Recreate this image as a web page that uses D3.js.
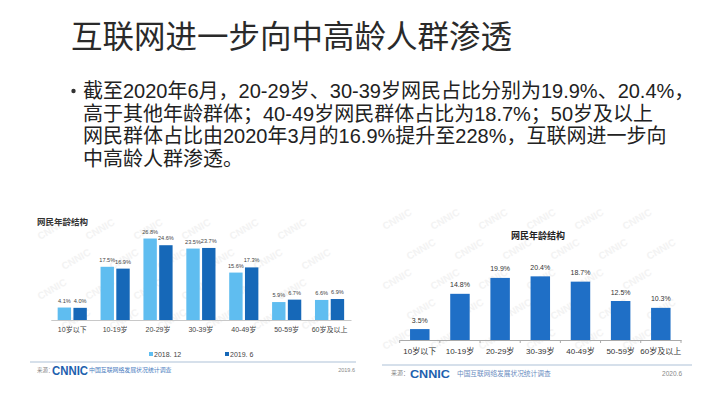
<!DOCTYPE html>
<html>
<head>
<meta charset="utf-8">
<script src="https://cdn.jsdelivr.net/npm/d3@7"></script>
<style>
  html, body { margin: 0; padding: 0; background: #fff; }
  svg { display: block; }
  text { font-family: "Liberation Sans", "Noto Sans CJK SC", sans-serif; }
</style>
</head>
<body>
<svg id="chart" width="708" height="396"></svg>
<script>
// ---------- data ----------
const slideTitle = "互联网进一步向中高龄人群渗透";
const bulletLines = [
  "截至2020年6月，20-29岁、30-39岁网民占比分别为19.9%、20.4%，",
  "高于其他年龄群体；40-49岁网民群体占比为18.7%；50岁及以上",
  "网民群体占比由2020年3月的16.9%提升至228%，互联网进一步向",
  "中高龄人群渗透。"
];
const chartTitle = "网民年龄结构";
const categories = ["10岁以下", "10-19岁", "20-29岁", "30-39岁", "40-49岁", "50-59岁", "60岁及以上"];
const seriesNames = ["2018. 12", "2019. 6"];
const values2018 = [4.1, 17.5, 26.8, 23.5, 15.6, 5.9, 6.6];
const values2019 = [4.0, 16.9, 24.6, 23.7, 17.3, 6.7, 6.9];
const values2020 = [3.5, 14.8, 19.9, 20.4, 18.7, 12.5, 10.3];
const sourceLabel = "来源：";
const sourceName = "中国互联网络发展状况统计调查";
const leftDate = "2019.6";
const rightDate = "2020.6";

const svg = d3.select("#chart");

// ---------- slide title & bullets ----------
svg.append("text")
  .attr("x", 71).attr("y", 37)
  .attr("dominant-baseline", "central")
  .attr("font-family", "Noto Sans CJK SC")
  .attr("font-size", 31.5)
  .attr("fill", "#2a2a2a")
  .text(slideTitle);

svg.append("circle").attr("cx", 73.5).attr("cy", 91).attr("r", 2.2).attr("fill", "#333");

svg.selectAll("text.bullet")
  .data(bulletLines)
  .join("text")
  .attr("class", "bullet")
  .attr("x", 83)
  .attr("y", (d, i) => 91 + i * 22.5)
  .attr("dominant-baseline", "central")
  .attr("font-size", 20)
  .attr("fill", "#222")
  .text(d => d);

// ---------- watermarks ----------
function watermark(g, x0, x1, y0, y1) {
  const xs = d3.range(x0, x1, 48), ys = d3.range(y0, y1, 30);
  ys.forEach((y, j) => xs.forEach(x => {
    g.append("text")
      .attr("transform", `translate(${x + (j % 2) * 24},${y}) rotate(-30)`)
      .attr("font-size", 10).attr("font-weight", "bold")
      .attr("fill", "#f3f3f3")
      .text("CNNIC");
  }));
}

// ---------- left chart ----------
const L = svg.append("g");
watermark(L, 40, 310, 240, 350);

L.append("text")
  .attr("x", 37).attr("y", 222)
  .attr("dominant-baseline", "central")
  .attr("font-family", "Noto Sans CJK SC")
  .attr("font-size", 8.5).attr("font-weight", "bold")
  .attr("fill", "#333")
  .text(chartTitle);

const xL = d3.scaleBand().domain(categories).range([50.8, 351]).paddingInner(0.32).paddingOuter(0.16);
const xLs = d3.scaleBand().domain(seriesNames).range([0, xL.bandwidth()]).paddingInner(0.15);
const yL = d3.scaleLinear().domain([0, 30]).range([320, 228.8]);
const leftColors = d3.scaleOrdinal().domain(seriesNames).range(["#5fbdf0", "#1668b8"]);

const leftRows = categories.map((c, i) => ({ c, vals: [
  { s: seriesNames[0], v: values2018[i] },
  { s: seriesNames[1], v: values2019[i] }
]}));

const lg = L.selectAll("g.grp").data(leftRows).join("g")
  .attr("class", "grp")
  .attr("transform", d => `translate(${xL(d.c)},0)`);

lg.selectAll("rect").data(d => d.vals).join("rect")
  .attr("x", d => xLs(d.s))
  .attr("width", xLs.bandwidth())
  .attr("y", d => yL(d.v))
  .attr("height", d => yL(0) - yL(d.v))
  .attr("fill", d => leftColors(d.s));

lg.selectAll("text.val").data(d => d.vals).join("text")
  .attr("class", "val")
  .attr("x", d => xLs(d.s) + xLs.bandwidth() / 2)
  .attr("y", d => yL(d.v) - 7)
  .attr("text-anchor", "middle")
  .attr("dominant-baseline", "central")
  .attr("font-size", 5.6)
  .attr("fill", "#444")
  .text(d => d.v.toFixed(1) + "%");

const axL = L.append("g").attr("transform", `translate(0,${yL(0)})`)
  .call(d3.axisBottom(xL).tickSize(0).tickPadding(7));
axL.select(".domain").attr("stroke", "#c8c8c8");
axL.selectAll("text")
  .attr("font-family", "Noto Sans CJK SC")
  .attr("font-size", 7).attr("fill", "#444");

// legend
const legL = L.selectAll("g.leg").data(seriesNames).join("g")
  .attr("class", "leg")
  .attr("transform", (d, i) => `translate(${149 + i * 76},354)`);
legL.append("rect").attr("x", 0).attr("y", -2).attr("width", 4).attr("height", 4)
  .attr("fill", d => leftColors(d));
legL.append("text").attr("x", 5).attr("y", 0)
  .attr("dominant-baseline", "central")
  .attr("font-size", 7).attr("fill", "#444")
  .text(d => d);

// footer
L.append("line").attr("x1", 30).attr("x2", 356).attr("y1", 362).attr("y2", 362)
  .attr("stroke", "#c9d6e4").attr("stroke-width", 1.5);
L.append("text").attr("x", 37).attr("y", 370).attr("dominant-baseline", "central")
  .attr("font-family", "Noto Sans CJK SC").attr("font-size", 5.5).attr("fill", "#888").text(sourceLabel);
L.append("text").attr("x", 52).attr("y", 370.5).attr("dominant-baseline", "central")
  .attr("font-size", 13).attr("font-weight", "bold").attr("fill", "#1d5fae")
  .attr("textLength", 36).attr("lengthAdjust", "spacingAndGlyphs").text("CNNIC");
L.append("text").attr("x", 89).attr("y", 370).attr("dominant-baseline", "central")
  .attr("font-family", "Noto Sans CJK SC").attr("font-size", 5.9).attr("fill", "#4a7cc0").text(sourceName);
L.append("text").attr("x", 355).attr("y", 370).attr("dominant-baseline", "central")
  .attr("text-anchor", "end").attr("font-size", 5.5).attr("fill", "#888").text(leftDate);

// ---------- right chart ----------
const R = svg.append("g");
watermark(R, 385, 640, 230, 360);

R.append("text")
  .attr("x", 538).attr("y", 236)
  .attr("text-anchor", "middle")
  .attr("dominant-baseline", "central")
  .attr("font-family", "Noto Sans CJK SC")
  .attr("font-size", 9).attr("font-weight", "bold")
  .attr("fill", "#222")
  .text(chartTitle);

const xR = d3.scaleBand().domain(categories).range([399.6, 681]).paddingInner(0.515).paddingOuter(0.26);
const yR = d3.scaleLinear().domain([0, 25]).range([340, 262]);
const rightColor = "#1f6fc6";

const rightRows = categories.map((c, i) => ({ c, v: values2020[i] }));

R.selectAll("rect.bar").data(rightRows).join("rect")
  .attr("class", "bar")
  .attr("x", d => xR(d.c))
  .attr("width", xR.bandwidth())
  .attr("y", d => yR(d.v))
  .attr("height", d => yR(0) - yR(d.v))
  .attr("fill", rightColor);

R.selectAll("text.val").data(rightRows).join("text")
  .attr("class", "val")
  .attr("x", d => xR(d.c) + xR.bandwidth() / 2)
  .attr("y", d => yR(d.v) - 9)
  .attr("text-anchor", "middle")
  .attr("dominant-baseline", "central")
  .attr("font-size", 7)
  .attr("fill", "#333")
  .text(d => d.v.toFixed(1) + "%");

const axR = R.append("g").attr("transform", `translate(0,${yR(0)})`)
  .call(d3.axisBottom(xR).tickSize(0).tickPadding(8));
axR.select(".domain").attr("stroke", "#aaa");
axR.selectAll("text")
  .attr("font-family", "Noto Sans CJK SC")
  .attr("font-size", 8).attr("fill", "#333");
// small tick marks at band boundaries
const boundaries = categories.map(c => xR(c) - xR.step() * xR.paddingInner() / 2).concat([xR.range()[1]]);
R.selectAll("line.btick").data(boundaries).join("line")
  .attr("class", "btick")
  .attr("x1", d => d).attr("x2", d => d)
  .attr("y1", yR(0)).attr("y2", yR(0) + 3)
  .attr("stroke", "#aaa");

// footer
R.append("line").attr("x1", 382).attr("x2", 692).attr("y1", 365).attr("y2", 365)
  .attr("stroke", "#c9d6e4").attr("stroke-width", 1.5);
R.append("text").attr("x", 391).attr("y", 373).attr("dominant-baseline", "central")
  .attr("font-family", "Noto Sans CJK SC").attr("font-size", 6).attr("fill", "#888").text(sourceLabel);
R.append("text").attr("x", 410).attr("y", 373.5).attr("dominant-baseline", "central")
  .attr("font-size", 11).attr("font-weight", "bold").attr("fill", "#1d5fae")
  .attr("textLength", 40).attr("lengthAdjust", "spacingAndGlyphs").text("CNNIC");
R.append("text").attr("x", 457).attr("y", 373).attr("dominant-baseline", "central")
  .attr("font-family", "Noto Sans CJK SC").attr("font-size", 6.7).attr("fill", "#6a8cc0").text(sourceName);
R.append("text").attr("x", 682).attr("y", 373).attr("dominant-baseline", "central")
  .attr("text-anchor", "end").attr("font-size", 6.5).attr("fill", "#888").text(rightDate);
</script>
</body>
</html>
